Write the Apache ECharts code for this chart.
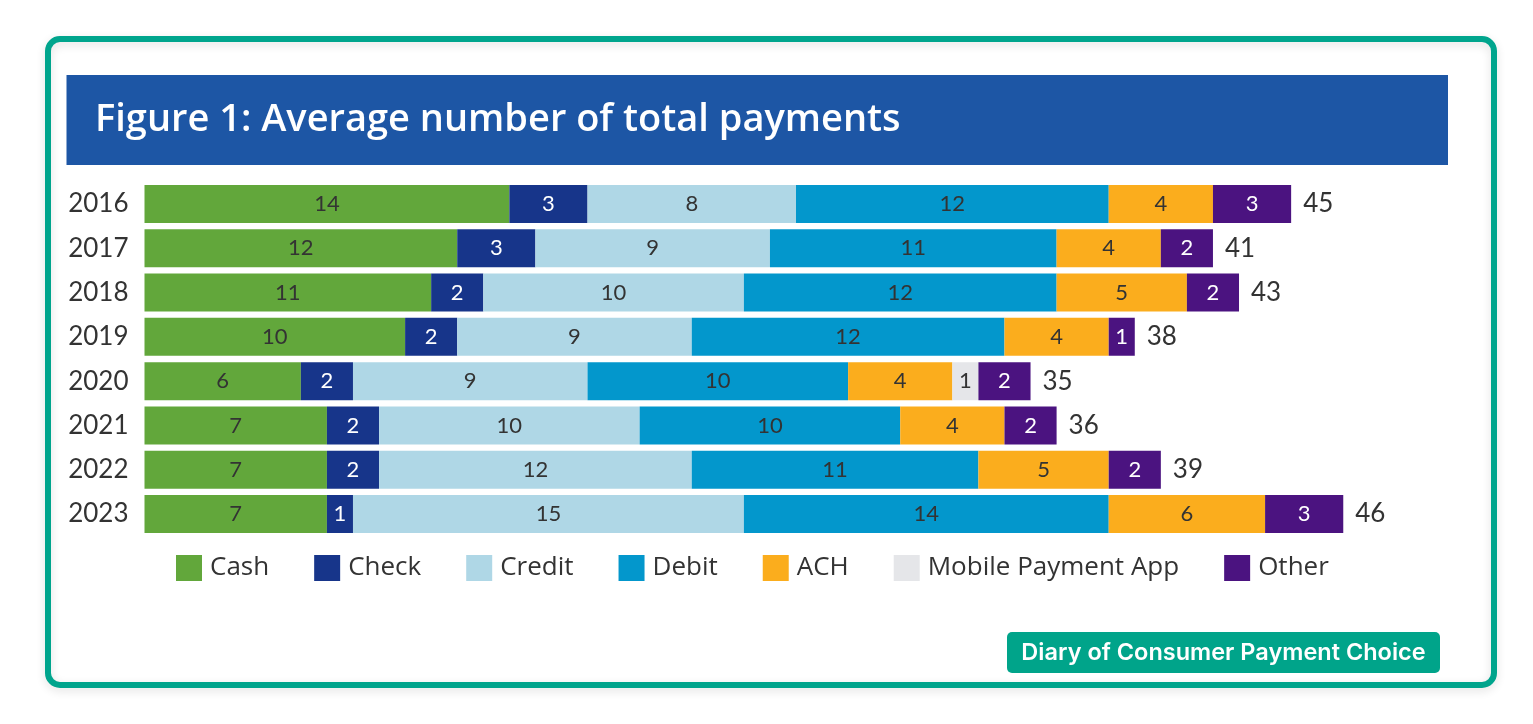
<!DOCTYPE html>
<html>
<head>
<meta charset="utf-8">
<title>Figure 1: Average number of total payments</title>
<script src="https://cdn.jsdelivr.net/npm/echarts@6/dist/echarts.min.js"></script>
<style>
  html, body { margin: 0; padding: 0; background: #fff; }
  #chart { width: 1533px; height: 724px; }
</style>
</head>
<body>
<div id="chart"></div>
<script>
// Average number of total payments per consumer, by instrument
var years  = ['2016', '2017', '2018', '2019', '2020', '2021', '2022', '2023'];
var cash   = [14, 12, 11, 10, 6, 7, 7, 7];
var check  = [3, 3, 2, 2, 2, 2, 2, 1];
var credit = [8, 9, 10, 9, 9, 10, 12, 15];
var debit  = [12, 11, 12, 12, 10, 10, 11, 14];
var ach    = [4, 4, 5, 4, 4, 4, 5, 6];
var mobile = ['-', '-', '-', '-', 1, '-', '-', '-'];
var other  = [3, 2, 2, 1, 2, 2, 2, 3];
var totals = [45, 41, 43, 38, 35, 36, 39, 46];

var FONT = 'Lato, "Open Sans", sans-serif';
var TEXT = '#333333';

function seg(name, data, color, labelColor) {
  return {
    name: name, type: 'bar', stack: 'all', data: data,
    barWidth: 38,
    itemStyle: { color: color },
    label: {
      show: true, position: 'inside',
      color: labelColor, fontSize: 22, fontFamily: FONT,
      formatter: function(p) { return p.value; }
    }
  };
}

var chart = echarts.init(document.getElementById('chart'));

chart.setOption({
  backgroundColor: '#ffffff',
  animation: false,
  textStyle: { fontFamily: FONT },
  graphic: [
    // teal frame
    { type: 'rect', shape: { x: 48, y: 39, width: 1446, height: 646, r: 12 },
      style: { fill: 'none', stroke: '#00a58d', lineWidth: 6,
               shadowBlur: 10, shadowColor: 'rgba(0,0,0,0.12)', shadowOffsetY: 3 }, z: 0 },
    // title band
    { type: 'rect', shape: { x: 66.5, y: 75, width: 1381.5, height: 90 },
      style: { fill: '#1d56a5' }, z: 1 },
    { type: 'text', x: 95, y: 120, z: 2,
      style: { text: 'Figure 1: Average number of total payments', fill: '#ffffff',
               font: '600 38px "Open Sans", sans-serif', verticalAlign: 'middle' } },
    // source badge
    { type: 'rect', shape: { x: 1007, y: 632, width: 433, height: 41, r: 5 },
      style: { fill: '#00a48a' }, z: 1 },
    { type: 'text', x: 1223.5, y: 653, z: 2,
      style: { text: 'Diary of Consumer Payment Choice', fill: '#ffffff',
               font: '600 23.5px Inter, sans-serif', align: 'center', verticalAlign: 'middle' } }
  ],
  legend: {
    data: ['Cash', 'Check', 'Credit', 'Debit', 'ACH', 'Mobile Payment App', 'Other'],
    left: 171, top: 550,
    icon: 'rect', itemWidth: 26, itemHeight: 26, itemGap: 45,
    textStyle: { fontSize: 26, color: TEXT, fontFamily: '"Open Sans", sans-serif', padding: [0, 0, 0, 3] }
  },
  grid: { left: 144.5, top: 181.8, width: 1303, height: 354.4 },
  xAxis: { type: 'value', min: 0, max: 50, show: false },
  yAxis: {
    type: 'category', data: years, inverse: true,
    axisLine: { show: false }, axisTick: { show: false },
    axisLabel: { fontSize: 26, color: TEXT, margin: 16, fontFamily: FONT }
  },
  series: [
    seg('Cash', cash, '#62a73b', TEXT),
    seg('Check', check, '#17358a', '#ffffff'),
    seg('Credit', credit, '#afd7e6', TEXT),
    seg('Debit', debit, '#0397cc', TEXT),
    seg('ACH', ach, '#fbad1d', TEXT),
    seg('Mobile Payment App', mobile, '#e5e6e9', TEXT),
    seg('Other', other, '#4b1380', '#ffffff'),
    {
      name: 'Total', type: 'bar', stack: 'all', barWidth: 38,
      data: years.map(function() { return 0; }),
      itemStyle: { color: 'transparent' },
      label: {
        show: true, position: 'right', distance: 12,
        color: TEXT, fontSize: 26, fontFamily: FONT,
        formatter: function(p) { return totals[p.dataIndex]; }
      }
    }
  ]
});

window.addEventListener('resize', function() { chart.resize(); });
</script>
</body>
</html>
